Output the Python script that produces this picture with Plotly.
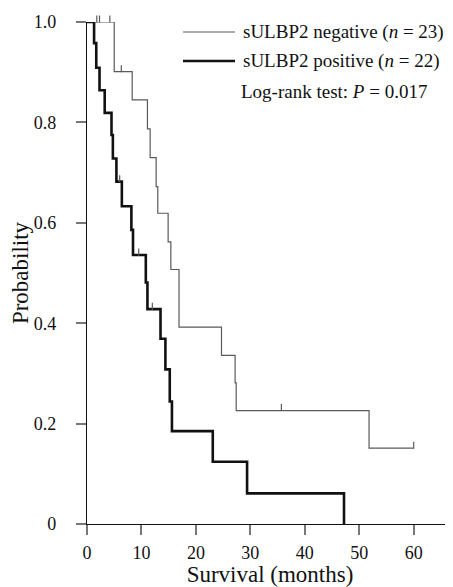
import plotly.graph_objects as go

# Negative group (thin line)
neg_time = [0, 5.0, 8.3, 11.1, 11.6, 12.7, 13.0, 14.9, 15.4, 16.9, 24.7, 27.2, 27.4, 51.8, 60.0]
neg_surv = [1.0, 0.901, 0.845, 0.787, 0.730, 0.672, 0.619, 0.562, 0.507, 0.392, 0.336, 0.281, 0.226, 0.151, 0.151]
neg_cens_time = [1.8, 2.3, 4.2, 6.3, 35.7, 60.0]
neg_cens_surv = [1.0, 1.0, 1.0, 0.901, 0.226, 0.151]

# Positive group (thick line)
pos_time = [0, 1.3, 1.7, 2.3, 3.25, 4.5, 4.75, 5.4, 6.4, 8.15, 8.45, 10.8, 11.1, 13.5, 14.4, 15.2, 15.6, 23.1, 29.4, 47.2]
pos_surv = [1.0, 0.958, 0.909, 0.864, 0.819, 0.775, 0.728, 0.682, 0.633, 0.586, 0.536, 0.481, 0.428, 0.369, 0.308, 0.244, 0.185, 0.124, 0.061, 0.0]
pos_cens_time = [6.0, 9.5, 12.0]
pos_cens_surv = [0.682, 0.536, 0.428]

x_ticks = [0, 10, 20, 30, 40, 50, 60]
y_ticks = [0, 0.2, 0.4, 0.6, 0.8, 1.0]
y_tick_labels = ["0", "0.2", "0.4", "0.6", "0.8", "1.0"]

legend_labels = ["sULBP2 negative (<i>n</i> = 23)", "sULBP2 positive (<i>n</i> = 22)"]
stat_label = "Log-rank test: <i>P</i> = 0.017"

FONT = "Liberation Serif, Times New Roman, serif"
NEG_COLOR = "#5a5a5a"
POS_COLOR = "#111111"

fig = go.Figure()
fig.add_trace(go.Scatter(x=neg_time, y=neg_surv, mode="lines", line_shape="hv",
                         line=dict(color=NEG_COLOR, width=1.2), showlegend=False))
fig.add_trace(go.Scatter(x=pos_time, y=pos_surv, mode="lines", line_shape="hv",
                         line=dict(color=POS_COLOR, width=2.6), showlegend=False))
tick_marker = dict(symbol="line-ns", size=5, standoff=3, angle=180,
                   line=dict(color=NEG_COLOR, width=1.2))
fig.add_trace(go.Scatter(x=neg_cens_time, y=neg_cens_surv, mode="markers", cliponaxis=False,
                         marker=tick_marker, showlegend=False))
fig.add_trace(go.Scatter(x=pos_cens_time, y=pos_cens_surv, mode="markers", cliponaxis=False,
                         marker=tick_marker, showlegend=False))

# Page has an 8px body margin; layout numbers below are in window pixels
OFF = 8
WIN_W, WIN_H = 453, 587
AX_L, AX_R, AX_T, AX_B = 87, 453, 22, 524
pw, ph = AX_R - AX_L, AX_B - AX_T

def px_x(p):
    return (p - AX_L) / pw

def px_y(p):
    return (AX_B - p) / ph

rows = [(32, NEG_COLOR, 1.2), (61, POS_COLOR, 2.6)]
for (yy, col, wd), lab in zip(rows, legend_labels):
    fig.add_shape(type="line", xref="paper", yref="paper",
                  x0=px_x(183), x1=px_x(235), y0=px_y(yy), y1=px_y(yy),
                  line=dict(color=col, width=wd))
    fig.add_annotation(xref="paper", yref="paper", x=px_x(241), y=px_y(yy),
                       xanchor="left", yanchor="middle", text=lab, showarrow=False,
                       font=dict(family=FONT, size=19, color="#111"))
fig.add_annotation(xref="paper", yref="paper", x=px_x(239), y=px_y(91),
                   xanchor="left", yanchor="middle", text=stat_label, showarrow=False,
                   font=dict(family=FONT, size=19, color="#111"))

fig.update_layout(
    width=WIN_W - OFF, height=WIN_H - OFF,
    margin=dict(l=AX_L - OFF, r=WIN_W - AX_R, t=AX_T - OFF, b=WIN_H - AX_B, autoexpand=False),
    paper_bgcolor="white", plot_bgcolor="white",
    font=dict(family=FONT, size=18, color="#111"),
    xaxis=dict(range=[0, (AX_R - AX_L) / 5.445], tickvals=x_ticks, ticks="outside", ticklen=10,
               tickcolor="#777", tickwidth=1.5, showline=True, linecolor="#111", linewidth=1.2,
               showgrid=False, zeroline=False, ticklabelstandoff=2,
               title=dict(text="Survival (months)", font=dict(size=23), standoff=4)),
    yaxis=dict(range=[0, 1.0], tickvals=y_ticks, ticktext=y_tick_labels, ticks="outside",
               ticklen=10, tickcolor="#777", tickwidth=1.5, showline=True, linecolor="#111",
               linewidth=1.2, showgrid=False, zeroline=False, ticklabelstandoff=16,
               title=dict(text="Probability", font=dict(size=23), standoff=0)),
)

fig.write_html("out.html")
